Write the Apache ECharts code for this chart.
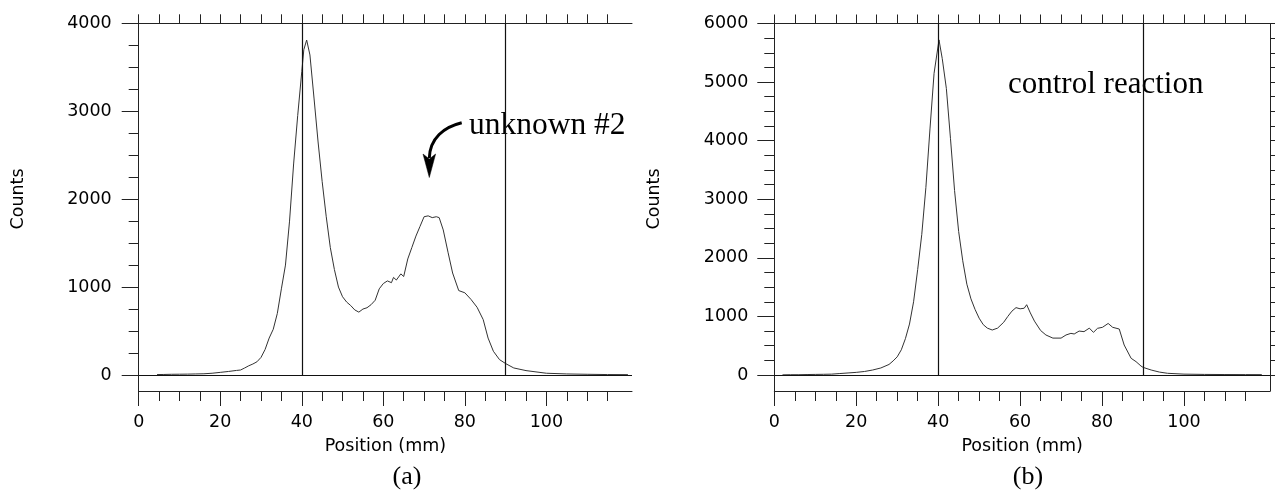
<!DOCTYPE html>
<html>
<head>
<meta charset="utf-8">
<script src="https://cdn.jsdelivr.net/npm/echarts@6/dist/echarts.min.js"></script>
<style>
html,body{margin:0;padding:0;background:#fff;}
#c{width:1275px;height:498px;}
</style>
</head>
<body>
<div id="c"></div>
<script>
// ---- data: panel (a) unknown #2 ----
const posA = [4.5,6,8,10,12,14,16,18,20,22,24,25,26,27,28,29,30,31,32,33,34,35,36,37,38,39,40,40.5,41.2,42,43,44,45,46,47,48,49,50,51,52,53,54,55,56,57,58,59,60,61,62,62.5,63.2,64.3,65,66,67,68,69,70,71,72,73,73.7,74.7,75.9,77,78.5,80,81.5,83,84.5,85.7,87,88.5,90,92,95,100,105,110,115,120];
const countsA = [5,6,8,9,10,12,14,20,30,40,52,57,80,105,125,150,200,290,420,520,700,980,1250,1750,2400,2950,3450,3700,3810,3640,3150,2650,2200,1800,1450,1200,1000,890,830,790,740,715,750,765,800,850,980,1040,1070,1050,1110,1080,1150,1120,1320,1450,1580,1690,1800,1810,1790,1800,1790,1650,1390,1160,960,935,860,770,630,420,270,175,130,80,50,20,12,8,5,4];
// ---- data: panel (b) control reaction ----
const posB = [2,4,6,8,10,12,14,16,18,20,22,24,26,28,29,30,31,32,33,34,35,36,37,38,39,40.2,41,42,43,44,45,46,47,48,49,50,51,52,53.2,54.5,56,57,58,59,60,61,61.6,62.5,63.5,65,66.3,68,70,71.2,72.4,73.2,74.4,75.6,76.9,77.9,78.9,80.1,81.5,82.6,84.2,85.4,87.1,88.3,89.5,90,92,94,96,100,105,110,115,119];
const countsB = [3,5,5,8,10,12,15,25,35,45,60,85,120,180,240,310,430,620,870,1250,1800,2400,3200,4200,5150,5720,5400,4890,4040,3150,2450,1950,1550,1300,1120,970,860,800,768,800,900,1000,1090,1150,1130,1140,1200,1060,920,760,683,630,630,683,711,700,750,740,800,728,797,814,880,814,785,512,285,228,154,131,85,50,29,15,10,8,7,6];
// ---- ticks ----
const xMajor = [0,20,40,60,80,100];
const xMinor = [5,10,15,25,30,35,45,50,55,65,70,75,85,90,95,105,110,115];
const xAll = [0,5,10,15,20,25,30,35,40,45,50,55,60,65,70,75,80,85,90,95,100,105,110,115];
const yMajorA = [0,1000,2000,3000,4000];
const yMinorA = [250,500,750,1250,1500,1750,2250,2500,2750,3250,3500,3750];
const yMajorB = [0,1000,2000,3000,4000,5000,6000];
const yMinorB = [250,500,750,1250,1500,1750,2250,2500,2750,3250,3500,3750,4250,4500,4750,5250,5500,5750];
const yAllB = yMajorB.concat(yMinorB).sort((a,b)=>a-b);
const markersA = [40,90];
const markersB = [40,90];

const FONT = 'DejaVu Sans';
const AX = '#222';
const lbl = {color:'#000', fontFamily:FONT, fontSize:17.5};
const plain = v => String(v);

function xAxes(grid){
  return [
    {gridIndex:grid, type:'value', position:'bottom', min:0, max:121, splitLine:{show:false},
     axisLine:{show:true, onZero:false, lineStyle:{color:AX,width:1}},
     axisTick:{show:true, customValues:xMajor, length:15, lineStyle:{color:AX}},
     axisLabel:{show:true, customValues:xMajor, margin:22, formatter:plain, ...lbl},
     name:'Position (mm)', nameLocation:'middle', nameGap:46, nameTextStyle:{...lbl}},
    {gridIndex:grid, type:'value', position:'bottom', min:0, max:121, splitLine:{show:false},
     axisLine:{show:false, onZero:false},
     axisTick:{show:true, customValues:xMinor, length:10, lineStyle:{color:AX}},
     axisLabel:{show:false}},
    {gridIndex:grid, type:'value', position:'top', min:0, max:121, splitLine:{show:false},
     axisLine:{show:true, onZero:false, lineStyle:{color:AX,width:1}},
     axisTick:{show:true, customValues:xAll, length:9, lineStyle:{color:AX}},
     axisLabel:{show:false}}
  ];
}
function yAxes(grid, min, max, major, minor, margin){
  return [
    {gridIndex:grid, type:'value', position:'left', min:min, max:max, splitLine:{show:false},
     axisLine:{show:true, onZero:false, lineStyle:{color:AX,width:1}},
     axisTick:{show:true, customValues:major, length:17, lineStyle:{color:AX}},
     axisLabel:{show:true, customValues:major, margin:margin, formatter:plain, ...lbl}},
    {gridIndex:grid, type:'value', position:'left', min:min, max:max, splitLine:{show:false},
     axisLine:{show:false, onZero:false},
     axisTick:{show:true, customValues:minor, length:10, lineStyle:{color:AX}},
     axisLabel:{show:false}}
  ];
}

function markLines(markers, ymax){
  const data = [{yAxis:0}];
  markers.forEach(m => data.push([{coord:[m,0]},{coord:[m,ymax]}]));
  return {silent:true, symbol:['none','none'], label:{show:false}, animation:false,
          lineStyle:{color:'#111', width:1.2, type:'solid'}, emphasis:{disabled:true}, data:data};
}

const yAx = yAxes(0,-182,4000,yMajorA,yMinorA,27)
  .concat(yAxes(1,-273,6000,yMajorB,yMinorB,26))
  .concat([{gridIndex:1, type:'value', position:'right', min:-273, max:6000, splitLine:{show:false},
     axisLine:{show:true, onZero:false, lineStyle:{color:AX,width:1}},
     axisTick:{show:true, customValues:yAllB, length:10, lineStyle:{color:AX}},
     axisLabel:{show:false}}]);

const serifFont = '"Liberation Serif", "Times New Roman", serif';

const option = {
  animation:false,
  backgroundColor:'#fff',
  grid:[
    {left:138.7, top:23.3, width:493.3, height:367.7},
    {left:774.3, top:23.5, width:495.7, height:367.5}
  ],
  xAxis: xAxes(0).concat(xAxes(1)),
  yAxis: yAx,
  series:[
    {type:'line', xAxisIndex:0, yAxisIndex:0, showSymbol:false, symbol:'none',
     lineStyle:{color:'#333', width:1}, data: posA.map((x,i)=>[x,countsA[i]]),
     markLine: markLines(markersA, 4000)},
    {type:'line', xAxisIndex:3, yAxisIndex:2, showSymbol:false, symbol:'none',
     lineStyle:{color:'#333', width:1}, data: posB.map((x,i)=>[x,countsB[i]]),
     markLine: markLines(markersB, 6000)}
  ],
  graphic:[
    {type:'text', x:18.5, y:199, rotation:Math.PI/2,
     style:{text:'Counts', fill:'#000', font:'17.5px "DejaVu Sans"', align:'center', verticalAlign:'middle'}},
    {type:'text', x:654.5, y:199, rotation:Math.PI/2,
     style:{text:'Counts', fill:'#000', font:'17.5px "DejaVu Sans"', align:'center', verticalAlign:'middle'}},
    {type:'text', x:407, y:477,
     style:{text:'(a)', fill:'#000', font:'26px ' + serifFont, align:'center', verticalAlign:'middle'}},
    {type:'text', x:1028, y:477,
     style:{text:'(b)', fill:'#000', font:'26px ' + serifFont, align:'center', verticalAlign:'middle'}},
    {type:'text', x:469, y:126,
     style:{text:'unknown #2', fill:'#000', font:'31.5px ' + serifFont, align:'left', verticalAlign:'middle'}},
    {type:'text', x:1008, y:85,
     style:{text:'control reaction', fill:'#000', font:'31px ' + serifFont, align:'left', verticalAlign:'middle'}},
    {type:'bezierCurve', shape:{x1:461.7, y1:122.7, cpx1:444, cpy1:127, cpx2:430, cpy2:138, x2:429.3, y2:158},
     style:{stroke:'#000', lineWidth:3, fill:null}},
    {type:'polygon', shape:{points:[[423,154],[429.3,159],[435.6,154],[429.3,177.5]]},
     style:{fill:'#000', stroke:'#000', lineWidth:0.5}}
  ]
};
const chart = echarts.init(document.getElementById('c'), null, {renderer:'canvas'});
chart.setOption(option);
</script>
</body>
</html>
